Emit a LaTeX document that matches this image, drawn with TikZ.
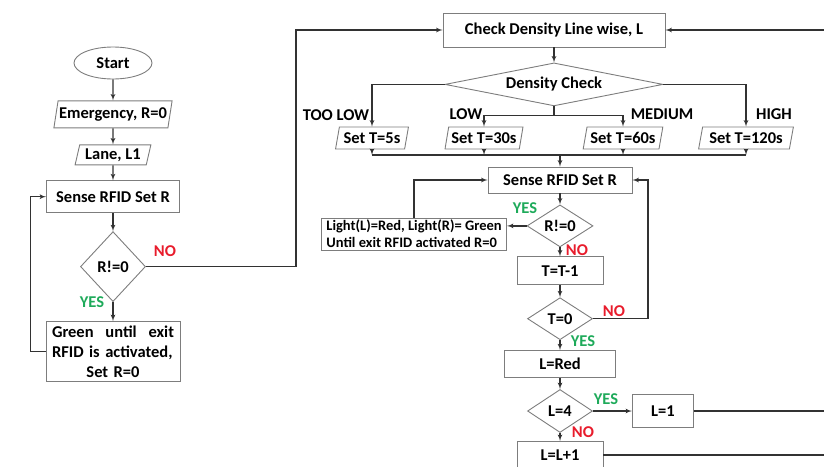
\documentclass[tikz,border=0pt]{standalone}
\usepackage{fontspec}
\setmainfont{Carlito}
\usetikzlibrary{arrows,positioning,shapes.geometric}
\definecolor{nored}{RGB}{232,28,44}
\definecolor{yesgreen}{RGB}{30,170,90}
\definecolor{boxgray}{RGB}{125,125,125}
\definecolor{linegray}{RGB}{50,50,50}

\begin{document}
\begin{tikzpicture}[x=1pt,y=-1pt,>=latex',every node/.append style={align=center,font=\fontsize{16.5}{20}\selectfont\bfseries},
  proc/.style={draw=boxgray, line width=0.9pt, rectangle, inner sep=2pt},
  io/.style={draw=boxgray, line width=0.9pt, trapezium, trapezium left angle=75, trapezium right angle=105, trapezium stretches=true, inner sep=1pt},
  dec/.style={draw=boxgray, line width=0.9pt, diamond, inner sep=0pt},
  term/.style={draw=boxgray, line width=0.9pt, ellipse, inner sep=0pt},
  flow/.style={draw=linegray, line width=1.2pt, ->},
  nolbl/.style={text=nored}, yeslbl/.style={text=yesgreen}]
  \useasboundingbox (0,0) rectangle (824,466);
  \clip (0,0) rectangle (824,466);

  % left column
  \node [term, minimum width=78pt, minimum height=32pt] (start) at (113,63) {Start};
  \node [io, below=21pt of start, minimum width=115pt, minimum height=27pt] (emerg) {Emergency, R=0};
  \node [io, below=16pt of emerg, minimum width=76pt, minimum height=20pt] (lane) {Lane, L1};
  \node [proc, below=15pt of lane, minimum width=133pt, minimum height=32pt] (senseA) {Sense RFID Set R};
  \node [dec, below=18pt of senseA, minimum width=65pt, minimum height=70pt] (chkA) {R!=0};
  \node [proc, below=19pt of chkA, text width=122pt, inner xsep=6pt, inner ysep=4pt, align=left] (green)
        {Green\hfill until\hfill exit\\RFID is activated,\\\hfill Set R=0\hfill\null};
  \node [nolbl] (noA) at (165,251) {NO};
  \node [yeslbl] (yesA) at (92,302) {YES};

  % density check
  \node [proc, minimum width=222pt, minimum height=34pt] (check) at (554,30) {Check Density Line wise, L};
  \node [dec, shape aspect=5, below=15pt of check, minimum width=218pt, minimum height=43pt] (dens) {Density Check};
  \node [io, minimum width=73pt, minimum height=22pt] (t5) at (372,138) {Set T=5s};
  \node [io, minimum width=78pt, minimum height=22pt] (t30) at (484,138) {Set T=30s};
  \node [io, minimum width=80pt, minimum height=22pt] (t60) at (623,138) {Set T=60s};
  \node [io, minimum width=95pt, minimum height=22pt] (t120) at (746,138) {Set T=120s};
  \node (tooLow) at (336,115) {TOO LOW};
  \node (low) at (466,114) {LOW};
  \node (medium) at (662,114) {MEDIUM};
  \node (high) at (774,114) {HIGH};

  % timer loop
  \node [proc, minimum width=144pt, minimum height=26pt] (senseB) at (560,180) {Sense RFID Set R};
  \node [dec, shape aspect=1.5, below=11pt of senseB, minimum width=66pt, minimum height=42pt] (chkB) {R!=0};
  \node [proc, minimum width=183pt, minimum height=32pt, inner xsep=5pt, align=left, font=\fontsize{14.5}{17}\selectfont\bfseries] (light) at (414,234)
        {Light(L)=Red, Light(R)= Green\\Until exit RFID activated R=0};
  \node [proc, below=9pt of chkB, minimum width=86pt, minimum height=28pt] (tdec) {T=T-1};
  \node [dec, shape aspect=1.5, below=12pt of tdec, minimum width=65pt, minimum height=42pt] (chkT) {T=0};
  \node [proc, below=10pt of chkT, minimum width=111pt, minimum height=27pt] (lred) {L=Red};
  \node [dec, shape aspect=1.5, below=11pt of lred, minimum width=65pt, minimum height=43pt] (chkL) {L=4};
  \node [proc, right=39pt of chkL, minimum width=61pt, minimum height=33pt] (lone) {L=1};
  \node [proc, below=8pt of chkL, minimum width=86pt, minimum height=27pt] (linc) {L=L+1};
  \node [yeslbl] (yesB) at (525,208) {YES};
  \node [nolbl] (noB) at (577,250) {NO};
  \node [nolbl] (noT) at (614,311) {NO};
  \node [yeslbl] (yesT) at (583,341) {YES};
  \node [yeslbl] (yesL) at (606,399) {YES};
  \node [nolbl] (noL) at (583,432) {NO};

  \coordinate (inTop) at (824,30);
  \coordinate (merge) at (560,155);
  \coordinate (rightEdge) at (824,0);

  % connectors, left
  \draw[flow] (start) -- (emerg);
  \draw[flow] (emerg) -- (lane);
  \draw[flow] (lane) -- (senseA);
  \draw[flow] (senseA) -- (chkA);
  \draw[flow] (chkA) -- (green);
  \draw[flow] (green.west) -- ++(-15,0) |- (senseA.west);
  \draw[flow] (chkA.east) -- ++(150,0) |- (check.west);

  % connectors, right
  \draw[flow] (inTop) -- (check.east);
  \draw[flow] (check) -- (dens);
  \draw[flow] (dens.west) -| (t5.north);
  \draw[flow] (dens.east) -| (t120.north);
  \draw[flow,-] (dens.south) -- ++(0,9) coordinate (split);
  \draw[flow] (split) -| (t30.north);
  \draw[flow] (split) -| (t60.north);
  \foreach \t in {t5,t30,t60,t120}
    \draw[flow] (\t.south) -- (\t.south |- merge);
  \draw[flow,-] (t5.south |- merge) -- (t120.south |- merge);
  \draw[flow] (merge) -- (senseB);
  \draw[flow] (senseB) -- (chkB);
  \draw[flow] (chkB.west) -- (chkB.west -| light.east);
  \draw[flow] (light.north) |- (senseB.west);
  \draw[flow] (chkB) -- (tdec);
  \draw[flow] (tdec) -- (chkT);
  \draw[flow] (chkT.east) -- ++(55,0) |- (senseB.east);
  \draw[flow] (chkT) -- (lred);
  \draw[flow] (lred) -- (chkL);
  \draw[flow] (chkL) -- (lone);
  \draw[flow,-] (lone.east) -- (lone.east -| rightEdge);
  \draw[flow] (chkL) -- (linc);
  \draw[flow,-] (linc.east) -- (linc.east -| rightEdge);
\end{tikzpicture}
\end{document}
